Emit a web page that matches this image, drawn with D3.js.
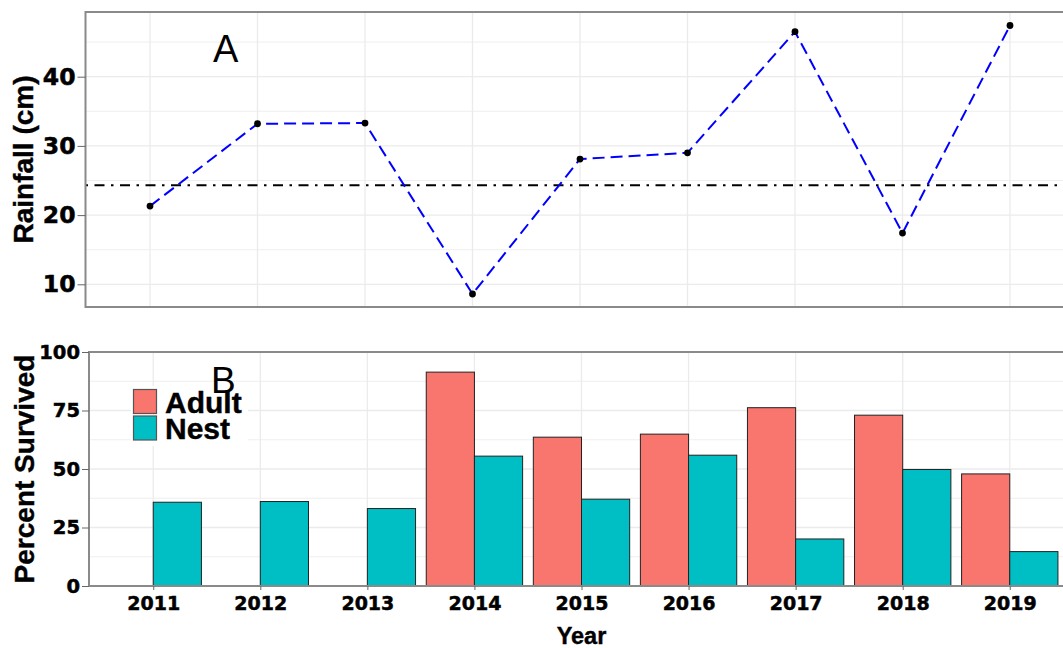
<!DOCTYPE html>
<html>
<head>
<meta charset="utf-8">
<script src="https://cdn.jsdelivr.net/npm/d3@7"></script>
<style>
  body { margin: 0; background: #fff; overflow: hidden; }
  svg { display: block; }
  .tick-num { font-family: "DejaVu Sans", sans-serif; font-weight: bold; fill: #000; stroke: #000; stroke-width: 0.5px; }
  .title { font-family: "Liberation Sans", Arial, sans-serif; font-weight: bold; fill: #000; stroke: #000; stroke-width: 0.4px; }
</style>
</head>
<body>
<svg id="chart" width="1063" height="648"></svg>
<script>
const years = ['2011', '2012', '2013', '2014', '2015', '2016', '2017', '2018', '2019'];
const rainfall = [21.3, 33.2, 33.3, 8.6, 28.1, 29.0, 46.5, 17.4, 47.4];
const meanRainfall = 24.3;
const adultSurvived = [null, null, null, 91.4, 63.6, 64.9, 76.2, 73.0, 47.9];
const nestSurvived = [35.8, 36.1, 33.1, 55.5, 37.1, 55.9, 20.1, 49.8, 14.7];
const groups = ['Adult', 'Nest'];
const groupColors = ['#F8766D', '#00BFC4'];
const rainTicks = [10, 20, 30, 40];
const rainMinor = [15, 25, 35, 45];
const survTicks = [0, 25, 50, 75, 100];
const survMinor = [12.5, 37.5, 62.5, 87.5];

const svg = d3.select('#chart');
const borderColor = '#8a8a8a';
const gridColor = '#ebebeb';

// ---- panel A: rainfall ----
const panelA = { x0: 85.5, x1: 1074.5, y0: 12, y1: 307 };
const xA = d3.scalePoint().domain(years).range([panelA.x0, panelA.x1]).padding(0.6);
const yA = d3.scaleLinear().domain([6.72, 49.35]).range([panelA.y1, panelA.y0]);

const gA = svg.append('g');
gA.selectAll('.minor').data(rainMinor).join('line')
  .attr('x1', panelA.x0).attr('x2', panelA.x1)
  .attr('y1', d => yA(d)).attr('y2', d => yA(d))
  .attr('stroke', gridColor).attr('stroke-width', 0.8);
gA.selectAll('.major').data(rainTicks).join('line')
  .attr('x1', panelA.x0).attr('x2', panelA.x1)
  .attr('y1', d => yA(d)).attr('y2', d => yA(d))
  .attr('stroke', gridColor).attr('stroke-width', 1.3);
gA.selectAll('.vgrid').data(years).join('line')
  .attr('x1', d => xA(d)).attr('x2', d => xA(d))
  .attr('y1', panelA.y0).attr('y2', panelA.y1)
  .attr('stroke', gridColor).attr('stroke-width', 1.3);

// mean line
gA.append('line')
  .attr('x1', panelA.x0).attr('x2', panelA.x1)
  .attr('y1', yA(meanRainfall)).attr('y2', yA(meanRainfall))
  .attr('stroke', '#000').attr('stroke-width', 2)
  .attr('stroke-dasharray', '2.5,6.5,10,6.5');

const rainData = years.map((y, i) => ({ year: y, value: rainfall[i] }));
gA.append('path')
  .datum(rainData)
  .attr('fill', 'none')
  .attr('stroke', '#0000ff')
  .attr('stroke-width', 2)
  .attr('stroke-dasharray', '12,6')
  .attr('d', d3.line().x(d => xA(d.year)).y(d => yA(d.value)));
gA.selectAll('.pt').data(rainData).join('circle')
  .attr('cx', d => xA(d.year)).attr('cy', d => yA(d.value))
  .attr('r', 3.4).attr('fill', '#000');

gA.append('path')
  .attr('d', `M${panelA.x1},${panelA.y0}H${panelA.x0}V${panelA.y1}H${panelA.x1}`)
  .attr('fill', 'none').attr('stroke', borderColor).attr('stroke-width', 2);

const axA = gA.append('g').attr('transform', `translate(${panelA.x0},0)`)
  .call(d3.axisLeft(yA).tickValues(rainTicks).tickSize(8).tickPadding(2));
axA.select('.domain').remove();
axA.selectAll('.tick line').attr('stroke', '#666');
axA.selectAll('.tick text').attr('class', 'tick-num').style('font-size', '23.5px');

gA.append('text').attr('class', 'title')
  .attr('transform', `translate(33,${(panelA.y0 + panelA.y1) / 2}) rotate(-90)`)
  .attr('text-anchor', 'middle').style('font-size', '28px')
  .text('Rainfall (cm)');

gA.append('text')
  .attr('x', 213).attr('y', 62)
  .style('font-family', '"Liberation Sans", Arial, sans-serif')
  .style('font-size', '38px').text('A');

// ---- panel B: percent survived ----
const panelB = { x0: 89, x1: 1074, y0: 352, y1: 586 };
const xB = d3.scalePoint().domain(years).range([panelB.x0, panelB.x1]).padding(0.6);
const yB = d3.scaleLinear().domain([0, 100]).range([panelB.y1, panelB.y0]);
const barW = xB.step() * 0.45;
const xOffset = d3.scaleOrdinal().domain(groups).range([-barW, 0]);
const color = d3.scaleOrdinal().domain(groups).range(groupColors);

const gB = svg.append('g');
gB.selectAll('.minor').data(survMinor).join('line')
  .attr('x1', panelB.x0).attr('x2', panelB.x1)
  .attr('y1', d => yB(d)).attr('y2', d => yB(d))
  .attr('stroke', gridColor).attr('stroke-width', 0.8);
gB.selectAll('.major').data(survTicks).join('line')
  .attr('x1', panelB.x0).attr('x2', panelB.x1)
  .attr('y1', d => yB(d)).attr('y2', d => yB(d))
  .attr('stroke', gridColor).attr('stroke-width', 1.3);
gB.selectAll('.vgrid').data(years).join('line')
  .attr('x1', d => xB(d)).attr('x2', d => xB(d))
  .attr('y1', panelB.y0).attr('y2', panelB.y1)
  .attr('stroke', gridColor).attr('stroke-width', 1.3);

const bars = [];
years.forEach((y, i) => {
  if (adultSurvived[i] != null) bars.push({ year: y, group: 'Adult', value: adultSurvived[i] });
  if (nestSurvived[i] != null) bars.push({ year: y, group: 'Nest', value: nestSurvived[i] });
});
gB.selectAll('.bar').data(bars).join('rect')
  .attr('x', d => xB(d.year) + xOffset(d.group))
  .attr('y', d => yB(d.value))
  .attr('width', barW)
  .attr('height', d => yB(0) - yB(d.value))
  .attr('fill', d => color(d.group))
  .attr('stroke', '#222').attr('stroke-width', 1);

gB.append('path')
  .attr('d', `M${panelB.x1},${panelB.y0}H${panelB.x0}V${panelB.y1}H${panelB.x1}`)
  .attr('fill', 'none').attr('stroke', borderColor).attr('stroke-width', 2);

const axBy = gB.append('g').attr('transform', `translate(${panelB.x0},0)`)
  .call(d3.axisLeft(yB).tickValues(survTicks).tickSize(7).tickPadding(2));
axBy.select('.domain').remove();
axBy.selectAll('.tick line').attr('stroke', '#666');
axBy.selectAll('.tick text').attr('class', 'tick-num').style('font-size', '19.5px');

const axBx = gB.append('g').attr('transform', `translate(0,${panelB.y1})`)
  .call(d3.axisBottom(xB).tickSize(4).tickPadding(7));
axBx.select('.domain').remove();
axBx.selectAll('.tick line').attr('stroke', '#666');
axBx.selectAll('.tick text').attr('class', 'tick-num').style('font-size', '19px');

gB.append('text').attr('class', 'title')
  .attr('transform', `translate(33.5,${(panelB.y0 + panelB.y1) / 2}) rotate(-90)`)
  .attr('text-anchor', 'middle').style('font-size', '28px')
  .text('Percent Survived');

gB.append('text').attr('class', 'title')
  .attr('x', (panelB.x0 + panelB.x1) / 2).attr('y', 644)
  .attr('text-anchor', 'middle').style('font-size', '23.5px')
  .text('Year');

// legend
const legend = gB.append('g');
legend.append('rect')
  .attr('x', 131).attr('y', 386).attr('width', 117).attr('height', 60)
  .attr('fill', '#fff');
legend.selectAll('.key').data(groups).join('rect')
  .attr('x', 133.5).attr('y', (d, i) => 389.5 + i * 26.5)
  .attr('width', 23).attr('height', 24)
  .attr('fill', d => color(d))
  .attr('stroke', '#555').attr('stroke-width', 1.2);
legend.selectAll('.lab').data(groups).join('text')
  .attr('class', 'title')
  .attr('x', 165).attr('y', (d, i) => 412.5 + i * 26)
  .style('font-size', '30px')
  .text(d => d);

gB.append('text')
  .attr('x', 211).attr('y', 393)
  .style('font-family', '"Liberation Sans", Arial, sans-serif')
  .style('font-size', '37px').text('B');
</script>
</body>
</html>
